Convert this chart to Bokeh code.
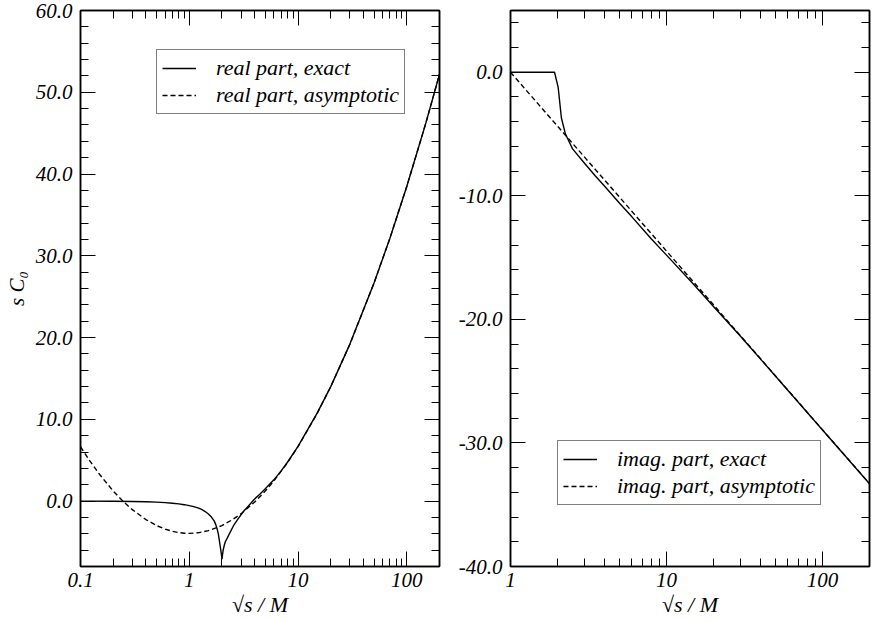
import math
from bokeh.plotting import figure
from bokeh.models import (Range1d, FixedTicker, LogAxis, LinearAxis, CustomJSTickFormatter,
                          PrintfTickFormatter, Legend, LegendItem)
from bokeh.layouts import row
from bokeh.embed import file_html
from bokeh.resources import INLINE

# ---------------- data ----------------
re_x_exact = [0.1, 0.2, 0.3, 0.4, 0.5, 0.6, 0.7, 0.8, 0.9, 1.0, 1.1, 1.2, 1.3, 1.4, 1.5,
              1.6, 1.7, 1.75, 1.8, 1.85, 1.88, 1.92, 1.96, 2.0, 2.02, 2.05, 2.1, 2.15,
              2.24, 2.4, 2.58, 2.8, 3.17, 3.5, 3.95, 4.5, 5.0, 6.0, 7.0, 8.0, 10, 15, 20,
              30, 50, 70, 100, 150, 200]
re_y_exact = [-0.01, -0.02, -0.05, -0.08, -0.13, -0.19, -0.26, -0.34, -0.44, -0.55, -0.68,
              -0.83, -1.02, -1.28, -1.58, -1.95, -2.45, -2.85, -3.35, -4.0, -4.6, -5.4,
              -6.2, -7.1, -6.6, -6.0, -5.4, -4.95, -4.5, -3.7, -2.9, -2.2, -1.22, -0.6,
              0.2, 0.9, 1.5, 2.6, 3.7, 4.75, 6.7, 10.75, 14.0, 19.2, 26.66, 32.15, 38.47,
              46.26, 52.2]

re_x_asym = [0.1, 0.12, 0.15, 0.2, 0.25, 0.3, 0.4, 0.5, 0.6, 0.7, 0.8, 0.9, 1.0, 1.2, 1.5,
             2.0, 2.5, 3.0, 4.0, 5.0, 6.0, 8.0, 10, 15, 20, 30, 50, 70, 100, 150, 200]
re_y_asym = [6.65, 5.04, 3.25, 1.23, -0.11, -1.05, -2.27, -2.99, -3.43, -3.70, -3.85, -3.93,
             -3.95, -3.88, -3.62, -2.99, -2.27, -1.54, -0.11, 1.23, 2.47, 4.70, 6.65,
             10.72, 14.00, 19.19, 26.66, 32.15, 38.47, 46.26, 52.20]

im_x_exact = [1.0, 1.5, 1.915, 2.02, 2.12, 2.25, 2.31, 2.5, 3.0, 3.5, 4.0, 5.0, 6.0, 8.0,
              10, 15, 20, 30, 50, 100, 200]
im_y_exact = [0.0, 0.0, 0.0, -1.2, -3.7, -5.0, -5.3, -6.2, -7.4, -8.4, -9.2, -10.6, -11.7,
              -13.5, -14.8, -17.2, -18.95, -21.4, -24.6, -28.95, -33.3]

im_x_asym = [1, 2, 5, 10, 20, 50, 100, 200]
im_y_asym = [0.0, -4.355, -10.11, -14.47, -18.82, -24.58, -28.94, -33.29]

left_x_major = [0.1, 1, 10, 100]
left_x_minor = [0.2, 0.3, 0.4, 0.5, 0.6, 0.7, 0.8, 0.9, 2, 3, 4, 5, 6, 7, 8, 9,
                20, 30, 40, 50, 60, 70, 80, 90]
right_x_major = [1, 10, 100]
right_x_minor = [2, 3, 4, 5, 6, 7, 8, 9, 20, 30, 40, 50, 60, 70, 80, 90]
left_y_major = [0, 10, 20, 30, 40, 50, 60]
left_y_minor = list(range(-8, 61, 2))
right_y_major = [-40, -30, -20, -10, 0]
right_y_minor = list(range(-40, 5, 2))

labels_left = ["real part, exact", "real part, asymptotic"]
labels_right = ["imag. part, exact", "imag. part, asymptotic"]
x_title = "\u221as / M"
y_title = "s C\u2080"

FONT = "Liberation Serif"
FS = "21px"


def style(p, xmaj, xmin, ymaj, ymin):
    p.xgrid.visible = False
    p.ygrid.visible = False
    p.outline_line_color = "black"
    p.outline_line_width = 1.5
    bottom = p.below[0]
    left = p.left[0]
    xt = FixedTicker(ticks=xmaj, minor_ticks=xmin)
    yt = FixedTicker(ticks=ymaj, minor_ticks=ymin)
    xf = CustomJSTickFormatter(code="return tick.toString();")
    yf = PrintfTickFormatter(format="%.1f")
    top = LogAxis(ticker=xt, formatter=xf)
    right = LinearAxis(ticker=yt, formatter=yf)
    bottom.ticker = xt
    bottom.formatter = xf
    left.ticker = yt
    left.formatter = yf
    for ax in [bottom, left, top, right]:
        ax.axis_line_color = "black"
        ax.axis_line_width = 1.5
        ax.major_tick_in = 15
        ax.major_tick_out = 0
        ax.minor_tick_in = 8
        ax.minor_tick_out = 0
        ax.major_tick_line_color = "black"
        ax.minor_tick_line_color = "black"
        ax.major_tick_line_width = 1
        ax.minor_tick_line_width = 1
        ax.major_label_text_font = FONT
        ax.major_label_text_font_style = "italic"
        ax.major_label_text_color = "black"
        ax.major_label_text_font_size = FS
    bottom.major_label_standoff = 6
    left.major_label_standoff = 8
    for ax in [top, right]:
        ax.major_label_text_font_size = "0px"
        ax.major_label_text_color = None
        ax.major_label_standoff = 0
    p.add_layout(top, "above")
    p.add_layout(right, "right")
    bottom.axis_label = x_title
    bottom.axis_label_text_font = FONT
    bottom.axis_label_text_font_style = "italic"
    bottom.axis_label_text_font_size = "22px"
    bottom.axis_label_text_color = "black"
    bottom.axis_label_standoff = 2
    return left


def make_legend(items, loc, gw, standoff):
    return Legend(items=items, location=loc, border_line_color="black",
                  border_line_width=1, background_fill_color="white",
                  background_fill_alpha=1.0, padding=5, spacing=1, margin=0,
                  glyph_width=gw, glyph_height=22, label_height=22,
                  label_standoff=standoff, label_text_font=FONT,
                  label_text_font_style="italic", label_text_font_size="22px",
                  label_text_color="black")


# ---------------- left panel ----------------
p1 = figure(width=444, height=620, x_axis_type="log",
            x_range=Range1d(0.1, 200), y_range=Range1d(-8, 60),
            output_backend="svg", toolbar_location=None,
            min_border_left=80, min_border_right=5, min_border_top=10, min_border_bottom=54)
left1 = style(p1, left_x_major, left_x_minor, left_y_major, left_y_minor)
left1.axis_label = y_title
left1.axis_label_text_font = FONT
left1.axis_label_text_font_style = "italic"
left1.axis_label_text_font_size = "21px"
left1.axis_label_text_color = "black"
left1.axis_label_standoff = 4
r1 = p1.line(re_x_exact, re_y_exact, line_color="black", line_width=1.4)
r2 = p1.line(re_x_asym, re_y_asym, line_color="black", line_width=1.4, line_dash="5 3")
p1.add_layout(make_legend([LegendItem(label=labels_left[0], renderers=[r1]),
                           LegendItem(label=labels_left[1], renderers=[r2])],
                          (76, 452), 34, 20))

# ---------------- right panel ----------------
p2 = figure(width=428, height=620, x_axis_type="log",
            x_range=Range1d(1, 200), y_range=Range1d(-40, 5),
            output_backend="svg", toolbar_location=None,
            min_border_left=66, min_border_right=3, min_border_top=10, min_border_bottom=54)
style(p2, right_x_major, right_x_minor, right_y_major, right_y_minor)
r3 = p2.line(im_x_exact, im_y_exact, line_color="black", line_width=1.4)
r4 = p2.line(im_x_asym, im_y_asym, line_color="black", line_width=1.4, line_dash="5 3")
p2.add_layout(make_legend([LegendItem(label=labels_right[0], renderers=[r3]),
                           LegendItem(label=labels_right[1], renderers=[r4])],
                          (47, 61), 34, 20))

layout = row(p1, p2, spacing=0)
open("out.html", "w").write(file_html(layout, INLINE))
